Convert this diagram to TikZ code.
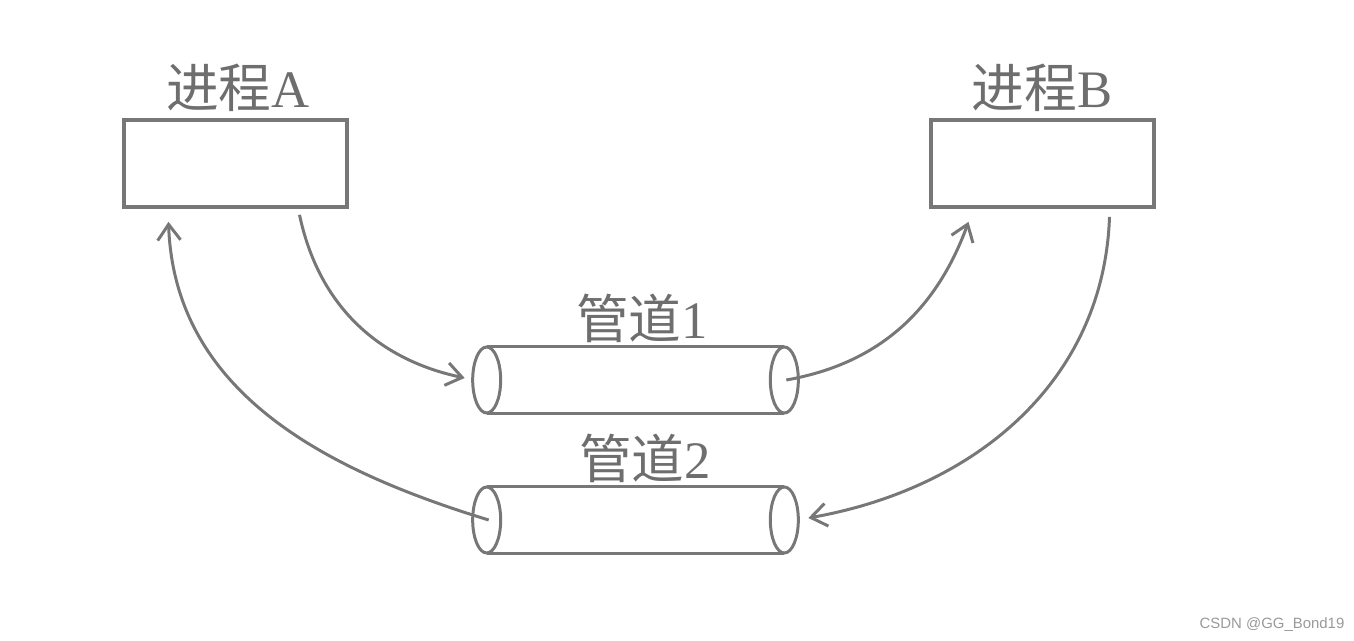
\documentclass[tikz,border=0pt]{standalone}
\usepackage{fontspec}
\setmainfont{Liberation Serif}
\newfontfamily\cjk{Noto Sans CJK SC}
\newfontfamily\wmfont{Liberation Sans}
\usepackage{xcolor}
\usepackage{tikz}
\usetikzlibrary{arrows.meta,positioning,calc}
\definecolor{linegray}{HTML}{777777}
\definecolor{textgray}{HTML}{6E6E6E}

\begin{document}
\begin{tikzpicture}[x=0.02cm, y=0.02cm,
  proc/.style={draw=linegray, line width=2.1pt, rectangle, minimum width=4.46cm, minimum height=1.74cm},
  pipe/.style={rectangle, minimum width=6.5cm, minimum height=1.32cm, inner sep=0pt},
  tag/.style={text=textgray, font=\fontsize{30}{34}\selectfont, inner sep=0pt},
  flow/.style={-{Straight Barb[length=9pt, width=13pt, line width=1.7pt]}, draw=linegray, line width=1.7pt},
  wall/.style={draw=linegray, line width=1.7pt}
]
\useasboundingbox (0,0) rectangle (1354,641);
\node[proc] (procA) at (235.5,477.5) {};
\node[proc] (procB) at (1042.5,477.5) {};
\node[tag] (tagA) at (238,553) {{\cjk 进程}A};
\node[tag] (tagB) at (1042,553) {{\cjk 进程}B};
\node[pipe] (pipe1) at (635.5,261) {};
\node[pipe] (pipe2) at (635.5,121) {};
\node[tag] (tag1) at (642,323) {{\cjk 管道}1};
\node[tag] (tag2) at (645,183) {{\cjk 管道}2};
% pipes
\foreach \p in {pipe1,pipe2} {
  \draw[wall] ($(\p.north west)+(14,0)$) -- ($(\p.north east)+(-14,0)$);
  \draw[wall] ($(\p.south west)+(14,0)$) -- ($(\p.south east)+(-14,0)$);
  \draw[wall] ($(\p.west)+(14,0)$) ellipse[x radius=14, y radius=33];
  \draw[wall] ($(\p.east)+(-14,0)$) ellipse[x radius=14, y radius=33];
}
\draw[flow] (procA.south) ++(64,-6) to[out=-78, in=168] ($(pipe1.west)+(-8,2)$);
\draw[flow] ($(pipe1.east)+(-12,0)$) to[out=10, in=-110] ($(procB.south)+(-74,-13)$);
\draw[flow] (procB.south) ++(67,-8) to[out=-92, in=10] ($(pipe2.east)+(10,2)$);
\draw[flow] ($(pipe2.west)+(16,0)$) to[out=163, in=-88] ($(procA.south)+(-67,-13)$);
\node[text=black!40, font=\wmfont\fontsize{8.5}{10}\selectfont, inner sep=0pt] (mark) at (1272,16) {CSDN @GG\_Bond19};
\end{tikzpicture}
\end{document}
